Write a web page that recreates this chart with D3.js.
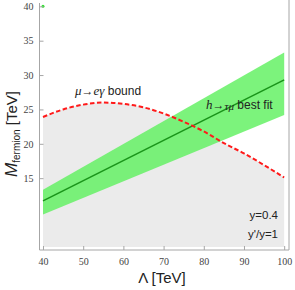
<!DOCTYPE html>
<html>
<head>
<meta charset="utf-8">
<script src="https://cdn.jsdelivr.net/npm/d3@7"></script>
<style>
  body { margin: 0; background: #fff; }
  svg { display: block; }
</style>
</head>
<body>
<div id="chart"></div>
<script>
// Data
const lambdaTicks = [40, 50, 60, 70, 80, 90, 100];
const massTicks = [15, 20, 25, 30, 35, 40];

// mu -> e gamma bound (red dashed)
const boundLambda = [40, 45, 50, 55, 60, 65, 70, 75, 80, 85, 90, 95, 100];
const boundMass = [23.9, 25.0, 25.7, 26.0, 25.8, 25.3, 24.4, 23.2, 21.8, 20.1, 18.6, 16.9, 15.1];

// h -> tau mu best fit line and band
const fitLambda = [40, 100];
const fitMass = [11.7, 29.3];
const fitLow = [9.7, 24.2];
const fitHigh = [13.3, 33.3];

const grayFloor = 5;
const stray = [{ l: 40, m: 40 }];

const W = 295, H = 290;
const svg = d3.select('#chart').append('svg')
    .attr('width', W)
    .attr('height', H);

// scales (frame is padded a bit around the data range)
const x = d3.scaleLinear().domain([39.13, 101.2]).range([39.5, 289]);
const y = d3.scaleLinear().domain([4.55, 40.92]).range([250, 0]);

// gray region under the bound
const boundPts = boundLambda.map((l, i) => ({ l, m: boundMass[i] }));
svg.append('path')
    .datum(boundPts)
    .attr('fill', '#ebebeb')
    .attr('d', d3.area()
        .curve(d3.curveMonotoneX)
        .x(d => x(d.l))
        .y0(y(grayFloor))
        .y1(d => y(d.m)));

// green band
const fitPts = fitLambda.map((l, i) => ({ l, m: fitMass[i], lo: fitLow[i], hi: fitHigh[i] }));
svg.append('path')
    .datum(fitPts)
    .attr('fill', '#5ff05f')
    .attr('fill-opacity', 0.82)
    .attr('d', d3.area()
        .x(d => x(d.l))
        .y0(d => y(d.lo))
        .y1(d => y(d.hi)));

// best fit line
svg.append('path')
    .datum(fitPts)
    .attr('fill', 'none')
    .attr('stroke', '#1a941a')
    .attr('stroke-width', 1.6)
    .attr('d', d3.line().x(d => x(d.l)).y(d => y(d.m)));

// bound curve
svg.append('path')
    .datum(boundPts)
    .attr('fill', 'none')
    .attr('stroke', '#ff1a1a')
    .attr('stroke-width', 2)
    .attr('stroke-dasharray', '4.5,2.5')
    .attr('d', d3.line()
        .curve(d3.curveMonotoneX)
        .x(d => x(d.l))
        .y(d => y(d.m)));

// stray point at the top-left corner
svg.selectAll('.stray')
    .data(stray)
    .enter()
    .append('circle')
    .attr('cx', d => x(d.l))
    .attr('cy', d => y(d.m))
    .attr('r', 1.5)
    .attr('fill', '#2ee02e');

// frame
const frameColor = '#a6a6a6';
svg.append('line')
    .attr('x1', x.range()[0]).attr('x2', x.range()[0])
    .attr('y1', 3).attr('y2', y.range()[0])
    .attr('stroke', frameColor);
svg.append('line')
    .attr('x1', x.range()[1]).attr('x2', x.range()[1])
    .attr('y1', 0).attr('y2', y.range()[0])
    .attr('stroke', frameColor);
svg.append('line')
    .attr('x1', x.range()[0]).attr('x2', x.range()[1])
    .attr('y1', y.range()[0]).attr('y2', y.range()[0])
    .attr('stroke', frameColor);

// x axis
const xAxis = svg.append('g')
    .attr('transform', `translate(0,${y.range()[0]})`)
    .call(d3.axisBottom(x).tickValues(lambdaTicks).tickSize(-4).tickPadding(8));
xAxis.select('.domain').remove();
xAxis.selectAll('line').attr('stroke', frameColor);
xAxis.selectAll('text')
    .attr('fill', '#444')
    .style('font-family', '"Liberation Serif", "DejaVu Serif", serif')
    .style('font-size', '10px');

// y axis
const yAxis = svg.append('g')
    .attr('transform', `translate(${x.range()[0]},0)`)
    .call(d3.axisLeft(y).tickValues(massTicks).tickSize(-4).tickPadding(6));
yAxis.select('.domain').remove();
yAxis.selectAll('line').attr('stroke', frameColor);
yAxis.selectAll('text')
    .attr('fill', '#444')
    .style('font-family', '"Liberation Serif", "DejaVu Serif", serif')
    .style('font-size', '10px');

// axis labels
svg.append('text')
    .attr('x', 162)
    .attr('y', 283)
    .attr('text-anchor', 'middle')
    .style('font-family', '"Liberation Sans", Arial, sans-serif')
    .style('font-size', '15px')
    .attr('fill', '#222')
    .text('Λ [TeV]');

const yLab = svg.append('text')
    .attr('transform', 'translate(17,134) rotate(-90)')
    .attr('text-anchor', 'middle')
    .style('font-family', '"Liberation Sans", Arial, sans-serif')
    .attr('fill', '#222');
yLab.append('tspan').style('font-size', '17px').style('font-style', 'italic').text('M');
yLab.append('tspan').style('font-size', '10px').attr('dy', 3).text('fermion');
yLab.append('tspan').style('font-size', '15px').attr('dy', -3).text(' [TeV]');

// annotations
const ann = svg.append('g')
    .style('font-family', '"Liberation Sans", Arial, sans-serif')
    .attr('fill', '#222');

const t1 = ann.append('text').attr('x', 75).attr('y', 95).style('font-size', '12px');
t1.append('tspan').style('font-style', 'italic').style('font-family', '"Liberation Serif", serif').style('font-size', '13px').text('μ');
t1.append('tspan').text('→');
t1.append('tspan').style('font-style', 'italic').style('font-family', '"Liberation Serif", serif').style('font-size', '13px').text('eγ');
t1.append('tspan').text(' bound');

const t2 = ann.append('text').attr('x', 206).attr('y', 109).style('font-size', '12px');
t2.append('tspan').style('font-style', 'italic').style('font-family', '"Liberation Serif", serif').style('font-size', '13px').text('h');
t2.append('tspan').text('→');
t2.append('tspan').style('font-style', 'italic').style('font-family', '"Liberation Serif", serif').style('font-size', '11px').attr('dy', 1).text('τμ');
t2.append('tspan').attr('dy', -1).text(' best fit');

ann.append('text')
    .attr('x', 278).attr('y', 219)
    .attr('text-anchor', 'end')
    .style('font-size', '11.5px')
    .text('y=0.4');
ann.append('text')
    .attr('x', 278).attr('y', 238)
    .attr('text-anchor', 'end')
    .style('font-size', '11.5px')
    .text("y'/y=1");
</script>
</body>
</html>
